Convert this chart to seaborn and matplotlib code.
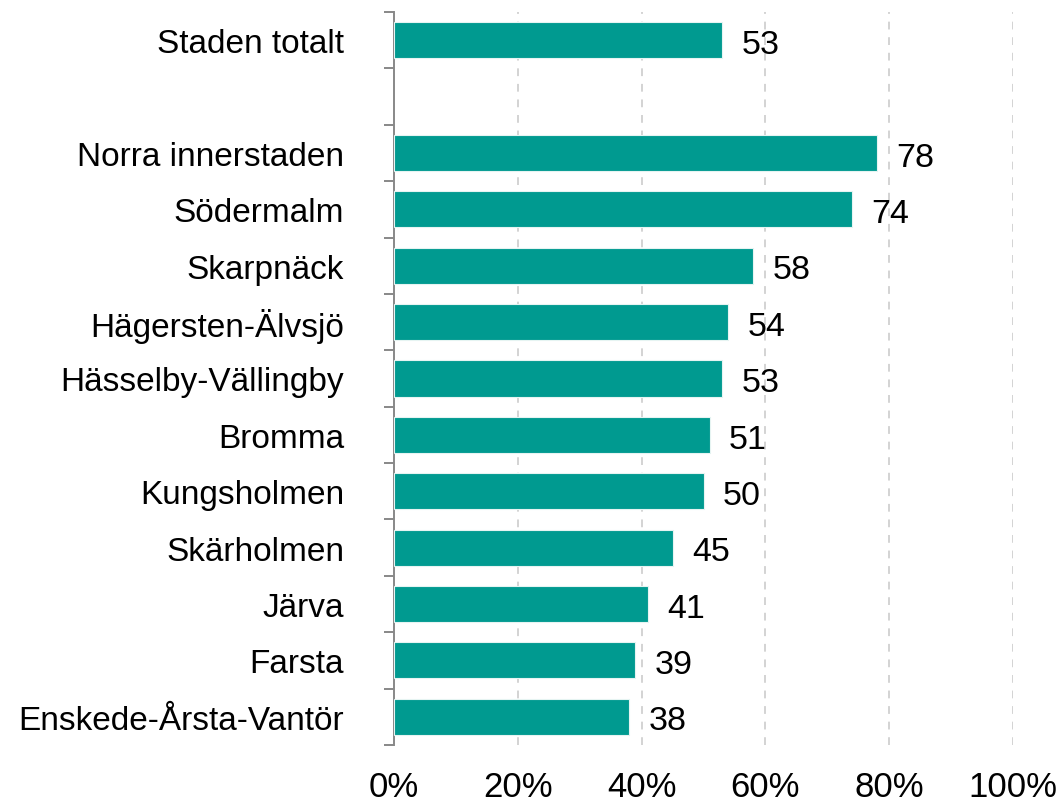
import matplotlib
matplotlib.use("Agg")
import matplotlib.pyplot as plt
import seaborn as sns
import pandas as pd
from matplotlib.ticker import FixedLocator, FuncFormatter

# Share (%) per district, with the city total on top
categories = ["Staden totalt", "", "Norra innerstaden", "Södermalm", "Skarpnäck",
              "Hägersten-Älvsjö", "Hässelby-Vällingby", "Bromma", "Kungsholmen",
              "Skärholmen", "Järva", "Farsta", "Enskede-Årsta-Vantör"]
values = [53, None, 78, 74, 58, 54, 53, 51, 50, 45, 41, 39, 38]
x_ticks = [0, 20, 40, 60, 80, 100]

sns.set_theme(style="white")
plt.rcParams["font.family"] = ["Liberation Sans", "DejaVu Sans"]
plt.rcParams["text.color"] = "black"
plt.rcParams["xtick.color"] = "black"
plt.rcParams["ytick.color"] = "black"

df = pd.DataFrame({"omrade": categories, "andel": values}).dropna()

fig = plt.figure(figsize=(10.63, 8.03), dpi=100)
ax = fig.add_axes([0.3707, 0.071, 0.953 - 0.3707, 0.9838 - 0.071])

sns.barplot(data=df, x="andel", y="omrade", order=categories, orient="h",
            color="#009A90", saturation=1, width=0.64, ax=ax,
            edgecolor="#E6F4F2", linewidth=0.8, zorder=3)

ax.set_xlim(0, 100)
ax.set_ylim(len(categories) - 0.5, -0.5)
ax.set_xlabel("")
ax.set_ylabel("")

# x axis: percent labels, dashed vertical grid
ax.xaxis.set_major_locator(FixedLocator(x_ticks))
ax.xaxis.set_major_formatter(FuncFormatter(lambda v, p: f"{v:.0f}%"))
ax.tick_params(axis="x", length=0, pad=18, labelsize=25, labelcolor="black")
for v in x_ticks[1:]:
    ax.axvline(v, color="#D3D3D3", linewidth=1.4, linestyle=(0, (4, 4)), zorder=1)

# y axis: labels centred on bars, tick marks between categories
ax.tick_params(axis="y", which="major", length=0, pad=36, labelsize=24, labelcolor="black")
ax.yaxis.set_minor_locator(FixedLocator([i - 0.5 for i in range(len(categories) + 1)]))
ax.tick_params(axis="y", which="minor", length=7, width=1.4, color="#888888",
               direction="out", left=True)

for side in ["top", "right", "bottom"]:
    ax.spines[side].set_visible(False)
ax.spines["left"].set_color("#888888")
ax.spines["left"].set_linewidth(1.4)

# value labels next to each bar
for i, v in enumerate(values):
    if v is None:
        continue
    ax.annotate(f"{v}", xy=(v, i), xytext=(14, -3), textcoords="offset points",
                va="center", ha="left", fontsize=24.5, color="black")

fig.savefig("out.png", dpi=100, facecolor="white")
